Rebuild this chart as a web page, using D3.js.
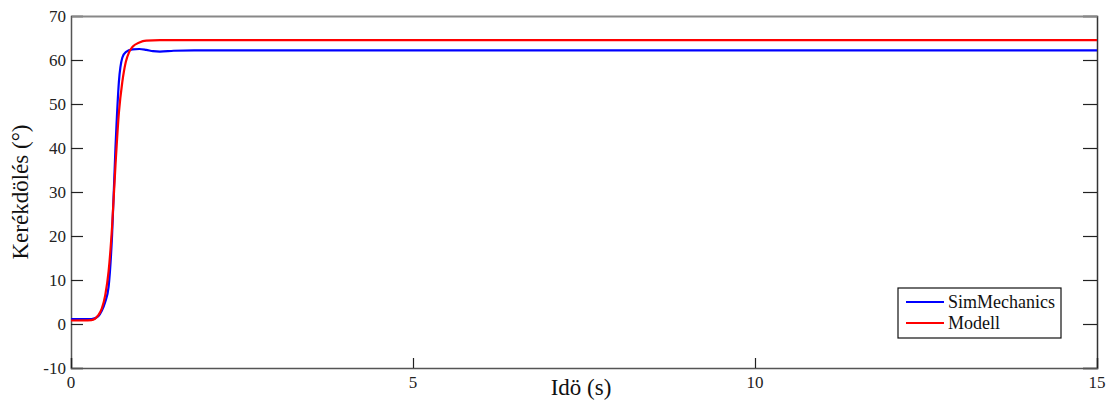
<!DOCTYPE html>
<html>
<head>
<meta charset="utf-8">
<script src="https://cdn.jsdelivr.net/npm/d3@7"></script>
<style>
body { margin: 0; background: #fff; }
svg { display: block; }
</style>
</head>
<body>
<svg id="chart" width="1112" height="405"></svg>
<script>
// data
const simTime = [0, 0.3, 0.4, 0.45, 0.5, 0.55, 0.6, 0.65, 0.7, 0.75, 0.8, 0.9, 1.0, 1.1, 1.2, 1.3, 1.5, 1.8, 15]
const simAngle = [1.1, 1.1, 1.8, 3, 5, 8.5, 20, 40, 55, 60.5, 61.8, 62.4, 62.5, 62.3, 62.0, 61.9, 62.1, 62.2, 62.2]

const modTime = [0, 0.3, 0.4, 0.45, 0.5, 0.55, 0.6, 0.65, 0.7, 0.75, 0.8, 0.85, 0.9, 1.0, 1.1, 1.3, 15]
const modAngle = [0.8, 0.9, 2, 3.5, 6.5, 12, 22, 36, 48, 55, 59.5, 61.8, 63, 64, 64.4, 64.5, 64.5]

const xTicks = [0, 5, 10, 15]
const yTicks = [-10, 0, 10, 20, 30, 40, 50, 60, 70]

const series = [
    {name: "SimMechanics", color: "#0000ff", t: simTime, v: simAngle},
    {name: "Modell", color: "#ff0000", t: modTime, v: modAngle}
]

const margin = {top: 16, left: 71, right: 15, bottom: 37}
const width = 1112, height = 405
const font = "'Liberation Serif', 'Times New Roman', serif"

let svg = d3.select("#chart")

let x = d3.scaleLinear()
    .domain([0, 15])
    .range([margin.left, width - margin.right])
let y = d3.scaleLinear()
    .domain([-10, 70])
    .range([height - margin.bottom, margin.top])

// ticks, pointing inward
let gLeft = svg.append("g")
    .attr("transform", `translate(${margin.left},0)`)
    .call(d3.axisRight(y).tickValues(yTicks).tickSize(12).tickFormat(""))
let gRight = svg.append("g")
    .attr("transform", `translate(${width - margin.right},0)`)
    .call(d3.axisLeft(y).tickValues(yTicks).tickSize(14).tickFormat(""))
let gBottom = svg.append("g")
    .attr("transform", `translate(0,${height - margin.bottom})`)
    .call(d3.axisTop(x).tickValues(xTicks).tickSize(10).tickFormat(""))
let gTop = svg.append("g")
    .attr("transform", `translate(0,${margin.top})`)
    .call(d3.axisBottom(x).tickValues(xTicks).tickSize(0).tickFormat(""))

;[gLeft, gRight, gBottom, gTop].forEach(g => {
    g.select(".domain").attr("stroke", "#555").attr("stroke-width", 1.5)
    g.selectAll(".tick line").attr("stroke", "#222").attr("stroke-width", 1.2)
})
gTop.select(".domain").attr("stroke", "#888").attr("stroke-width", 2)
gRight.select(".domain").attr("stroke", "#333")

// tick labels
svg.append("g")
    .selectAll("text")
    .data(yTicks)
    .join("text")
    .attr("x", margin.left - 5)
    .attr("y", d => y(d) + 6)
    .attr("text-anchor", "end")
    .attr("font-family", font)
    .attr("font-size", "17px")
    .attr("fill", "#222")
    .text(d => d)

svg.append("g")
    .selectAll("text")
    .data(xTicks)
    .join("text")
    .attr("x", d => x(d))
    .attr("y", height - margin.bottom + 20)
    .attr("text-anchor", "middle")
    .attr("font-family", font)
    .attr("font-size", "17px")
    .attr("fill", "#222")
    .text(d => d)

// axis titles
svg.append("text")
    .attr("transform", `translate(28,192) rotate(-90)`)
    .attr("text-anchor", "middle")
    .attr("font-family", font)
    .attr("font-size", "23px")
    .attr("fill", "#111")
    .text("Kerékdölés (°)")

svg.append("text")
    .attr("x", 581)
    .attr("y", 395)
    .attr("text-anchor", "middle")
    .attr("font-family", font)
    .attr("font-size", "23px")
    .attr("fill", "#111")
    .text("Idö (s)")

// curves
let line = d3.line()
    .x(d => x(d[0]))
    .y(d => y(d[1]))
    .curve(d3.curveMonotoneX)

svg.append("g")
    .selectAll("path")
    .data(series)
    .join("path")
    .attr("d", s => line(d3.zip(s.t, s.v)))
    .attr("fill", "none")
    .attr("stroke", s => s.color)
    .attr("stroke-width", 2.2)

// legend
let legend = svg.append("g")
    .attr("transform", "translate(898,288)")
legend.append("rect")
    .attr("width", 163)
    .attr("height", 50)
    .attr("fill", "#fff")
    .attr("stroke", "#111")
    .attr("stroke-width", 1.2)
let items = legend.selectAll(".item")
    .data(series)
    .join("g")
    .classed("item", true)
    .attr("transform", (d, i) => `translate(0,${14 + i * 21})`)
items.append("line")
    .attr("x1", 8)
    .attr("x2", 46)
    .attr("stroke", d => d.color)
    .attr("stroke-width", 2)
items.append("text")
    .attr("x", 50)
    .attr("y", 6)
    .attr("font-family", font)
    .attr("font-size", "18px")
    .attr("fill", "#111")
    .text(d => d.name)
</script>
</body>
</html>
